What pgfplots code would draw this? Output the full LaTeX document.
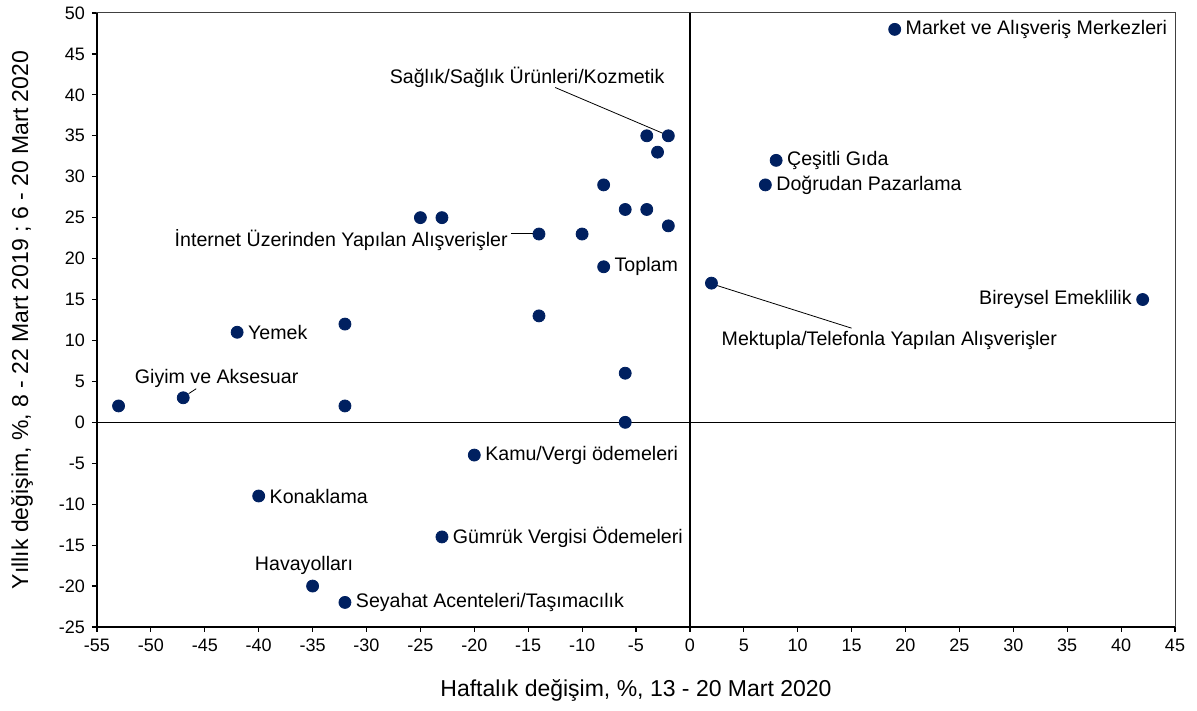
\documentclass[border=0pt]{standalone}
\usepackage{pgfplots}
\pgfplotsset{compat=1.18}
\usepackage{fontspec}
\setmainfont{Liberation Sans}
\definecolor{navy}{RGB}{0,32,96}
\pgfplotstableread{
x y
19 48
-2 35
-4 35
-3 33
8 32
7 29
-8 29
-25 25
-23 25
-6 26
-4 26
-2 24
-14 23
-10 23
-8 19
2 17
42 15
-14 13
-32 12
-42 11
-6 6
-47 3
-53 2
-32 2
-6 0
-20 -4
-40 -9
-23 -14
-35 -20
-32 -22
}\pts
\begin{document}
\begin{tikzpicture}[lab/.style={inner sep=0pt, outer sep=0pt, font=\fontsize{9.8}{12}\selectfont}]
\begin{axis}[name=ax, scale only axis, width=539pt, height=307pt,
 xmin=-55,xmax=45,ymin=-25,ymax=50,
 xtick distance=5, ytick distance=5,
 tick align=outside, tick pos=left,
 major tick length=2.5pt,
 axis line style={black!75, line width=0.5pt},
 tick style={black, line width=0.6pt},
 ticklabel style={font=\fontsize{9}{11}\selectfont},
 /pgf/number format/assume math mode=true,
 xlabel={Haftalık değişim, \%, 13 - 20 Mart 2020},
 ylabel={Yıllık değişim, \%, 8 - 22 Mart 2019 ; 6 - 20 Mart 2020},
 label style={font=\fontsize{11.5}{13}\selectfont},
 xlabel style={at={(axis description cs:0.5,-0.1026)}, anchor=center},
 ylabel style={at={(axis description cs:-0.0696,0.5)}, anchor=center},
 clip=false,
]
\draw[black, line width=0.6pt] (axis cs:0,-25) -- (axis cs:0,50);
\draw[black, line width=0.6pt] (axis cs:-55,0) -- (axis cs:45,0);
\draw[black, line width=1pt] (axis cs:-55,50) -- (axis cs:-55,-25) -- (axis cs:45,-25);
\draw[black, line width=0.4pt] (axis cs:-12.5,40.9) -- (axis cs:-2.5,35.3);
\draw[black, line width=0.4pt] (axis cs:-16.6,23.1) -- (axis cs:-14.3,23.1);
\draw[black, line width=0.4pt] (axis cs:2.3,16.8) -- (axis cs:15.0,11.5);
\draw[black, line width=0.4pt] (axis cs:-46.5,3.5) -- (axis cs:-45.8,4.1);
\addplot[only marks, mark=*, mark size=3pt, color=navy] table[x=x,y=y] {\pts};
\node[lab, anchor=west, xshift=5.5pt] at (axis cs:19,48) {Market ve Alışveriş Merkezleri};
\node[lab, anchor=west, xshift=5.5pt] at (axis cs:8,32) {Çeşitli Gıda};
\node[lab, anchor=west, xshift=5.5pt] at (axis cs:7,29) {Doğrudan Pazarlama};
\node[lab, anchor=west, xshift=5.5pt] at (axis cs:-8,19) {Toplam};
\node[lab, anchor=west, xshift=5.5pt] at (axis cs:-42,11) {Yemek};
\node[lab, anchor=west, xshift=5.5pt] at (axis cs:-20,-4) {Kamu/Vergi ödemeleri};
\node[lab, anchor=west, xshift=5.5pt] at (axis cs:-40,-9) {Konaklama};
\node[lab, anchor=west, xshift=5.5pt] at (axis cs:-23,-14) {Gümrük Vergisi Ödemeleri};
\node[lab, anchor=west, xshift=5.5pt] at (axis cs:-32,-22) {Seyahat Acenteleri/Taşımacılık};
\node[lab, anchor=east, xshift=-5.5pt] at (axis cs:42,15) {Bireysel Emeklilik};
\node[lab, anchor=center] at (axis cs:-35.8,-17.5) {Havayolları};
\node[lab, anchor=center] at (axis cs:-43.9,5.4) {Giyim ve Aksesuar};
\node[lab, anchor=center] at (axis cs:-15.1,42.1) {Sağlık/Sağlık Ürünleri/Kozmetik};
\node[lab, anchor=east] at (axis cs:-16.9,22.3) {İnternet Üzerinden Yapılan Alışverişler};
\node[lab, anchor=center] at (axis cs:18.5,10.0) {Mektupla/Telefonla Yapılan Alışverişler};
\end{axis}
\pgfresetboundingbox
\path ([xshift=-48.5pt,yshift=-42pt]ax.south west) rectangle ([xshift=11pt,yshift=6.5pt]ax.north east);
\end{tikzpicture}
\end{document}
